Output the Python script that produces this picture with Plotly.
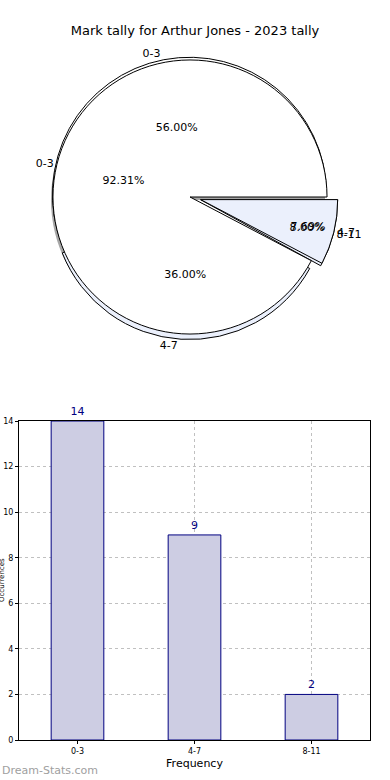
import plotly.graph_objects as go

# ---- data ----
categories = ["0-3", "4-7", "8-11"]
counts = [14, 9, 2]
pie2_labels = ["0-3", "4-7"]
pie2_values = [12, 1]
chart_title = "Mark tally for Arthur Jones - 2023 tally"
x_title = "Frequency"
y_title = "Occurrences"
watermark = "Dream-Stats.com"

W, H = 390, 780
def fx(x):
    return x / W
def fy(y):
    return 1 - y / H

FONT = "DejaVu Sans"
LIGHT = "#ebf0fc"
pie_dom = dict(x=[fx(42), fx(338)], y=[fy(345), fy(49)])
pull1 = [0.02, 0.04, 0.08]
pull2 = [0.0, 0.08]
shadow_dom = dict(x=[fx(40), fx(336)], y=[fy(348), fy(52)])


def start_rot(vals):
    # first slice should start at 3 o'clock and run counterclockwise (like matplotlib)
    return 90 - 360.0 * vals[0] / sum(vals)


rot1 = start_rot(counts)
rot2 = start_rot(pie2_values)
common = dict(sort=False, direction="counterclockwise",
              hoverinfo="skip", showlegend=False)

fig = go.Figure()

# shadow
fig.add_trace(go.Pie(labels=pie2_labels, values=pie2_values, domain=shadow_dom,
                     pull=pull2, textinfo="none", rotation=rot2,
                     marker=dict(colors=["rgba(0,0,0,0.35)", "rgba(0,0,0,0)"],
                                 line=dict(width=0)), **common))
# pie 1 (14/9/2)
fig.add_trace(go.Pie(labels=categories, values=counts, domain=pie_dom, pull=pull1,
                     textinfo="none", rotation=rot1,
                     marker=dict(colors=["white", LIGHT, LIGHT],
                                 line=dict(color="black", width=1)), **common))
# pie 2 (12/1)
fig.add_trace(go.Pie(labels=pie2_labels, values=pie2_values, domain=pie_dom, pull=pull2,
                     textinfo="none", rotation=rot2,
                     marker=dict(colors=["white", LIGHT],
                                 line=dict(color="black", width=1)), **common))

# text overlays (transparent)
for labs, vals, pl, rot in [(categories, counts, pull1, rot1),
                            (pie2_labels, pie2_values, pull2, rot2)]:
    fig.add_trace(go.Pie(labels=labs, values=vals, domain=pie_dom, pull=pl, rotation=rot,
                         texttemplate="%{percent:.2%}", textposition="inside",
                         insidetextorientation="horizontal",
                         textfont=dict(family=FONT, size=11, color="black"),
                         marker=dict(colors=["rgba(0,0,0,0)"] * len(vals),
                                     line=dict(width=0)), **common))
    fig.add_trace(go.Pie(labels=labs, values=vals, domain=pie_dom, pull=pl, rotation=rot,
                         textinfo="label", textposition="outside",
                         textfont=dict(family=FONT, size=11, color="black"),
                         marker=dict(colors=["rgba(0,0,0,0)"] * len(vals),
                                     line=dict(width=0)), **common))

# bar chart
fig.add_trace(go.Bar(x=categories, y=counts, width=0.45,
                     marker=dict(color="#cdcde3", line=dict(color="#000080", width=1)),
                     text=counts, textposition="outside", cliponaxis=False,
                     textfont=dict(family=FONT, size=11, color="#000080"),
                     hoverinfo="skip", showlegend=False))

fig.update_layout(
    width=W, height=H,
    margin=dict(l=0, r=0, t=0, b=0),
    paper_bgcolor="white", plot_bgcolor="white",
    font=dict(family=FONT, color="black"),
    title=dict(text=chart_title, x=fx(195), xref="container", y=fy(30), yref="container",
               xanchor="center", yanchor="middle", font=dict(size=13, color="black")),
    uniformtext=dict(mode="show", minsize=11),
    xaxis=dict(domain=[fx(19), fx(370)], anchor="y",
               showline=True, mirror=True, linecolor="black", linewidth=1,
               showgrid=True, gridcolor="#c0c0c0", griddash="dot", gridwidth=1,
               ticks="outside", ticklen=3, tickcolor="black",
               tickfont=dict(size=8),
               title=dict(text=x_title, font=dict(size=11), standoff=4)),
    yaxis=dict(domain=[fy(740), fy(421)], anchor="x", range=[0, 14], dtick=2,
               showline=True, mirror=True, linecolor="black", linewidth=1,
               showgrid=True, gridcolor="#c0c0c0", griddash="dot", gridwidth=1,
               zeroline=False,
               ticks="outside", ticklen=3, tickcolor="black",
               tickfont=dict(size=8), automargin=False),
    annotations=[
        dict(text=watermark, x=0, y=fy(770), xref="paper", yref="paper",
             xanchor="left", yanchor="middle", showarrow=False,
             font=dict(size=11, color="#a0a0a0", family="DejaVu Sans")),
        dict(text=y_title, x=0, y=fy(580), xref="paper", yref="paper",
             xanchor="left", yanchor="middle", textangle=-90, showarrow=False,
             xshift=-3, borderpad=0,
             font=dict(size=7, color="black", family=FONT)),
    ],
)

fig.write_html("out.html", config={"displayModeBar": False},
               post_script="document.body.style.margin='0';document.body.style.overflow='hidden';")
